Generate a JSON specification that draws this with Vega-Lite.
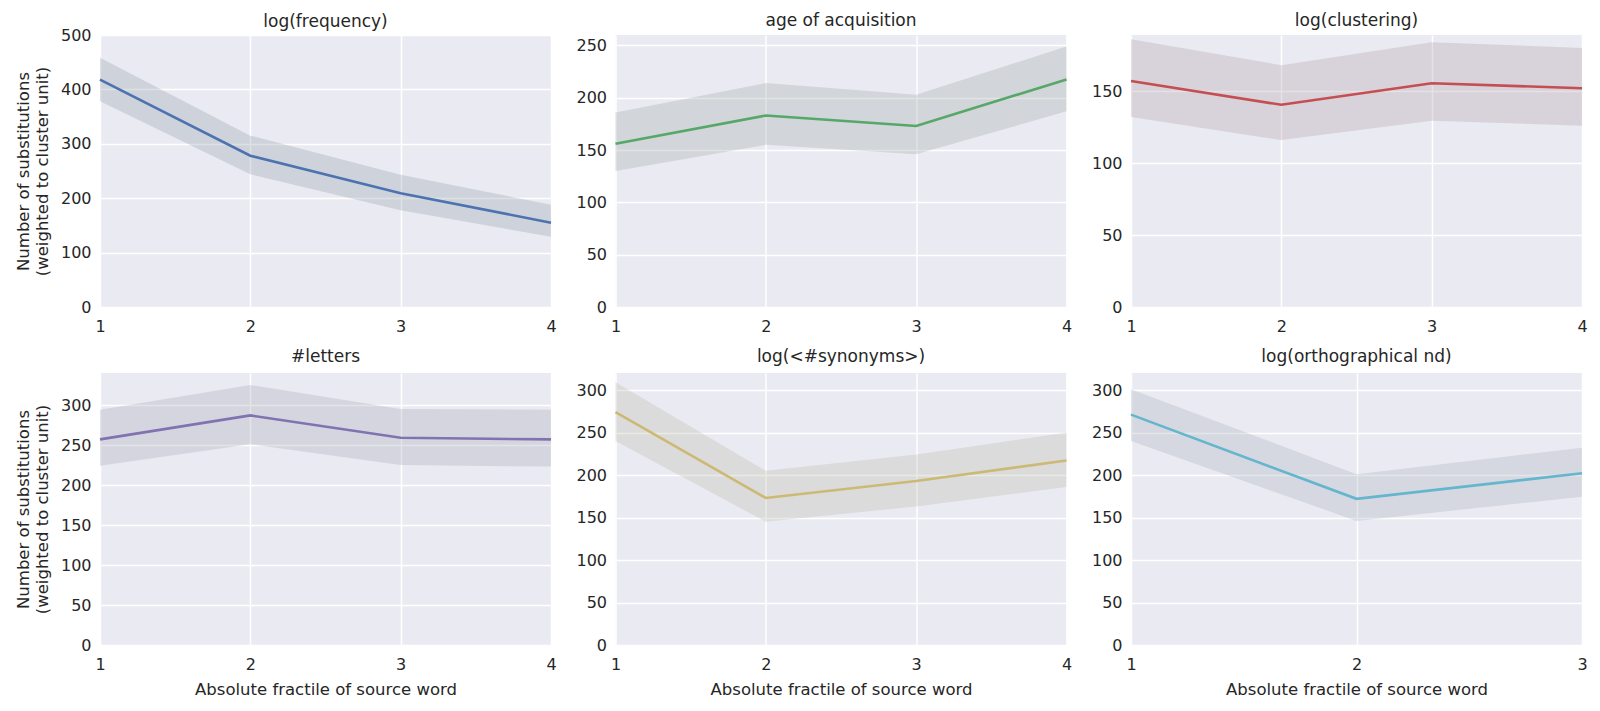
{
  "$schema": "https://vega.github.io/schema/vega-lite/v6.json",
  "background": "white",
  "padding": {"left": 15, "top": 12, "right": 3, "bottom": 3},
  "spacing": 14,
  "data": {"values": [
    {"panel": "freq", "fractile": 1, "mean": 418, "lo": 378, "hi": 458},
    {"panel": "freq", "fractile": 2, "mean": 278, "lo": 244, "hi": 315},
    {"panel": "freq", "fractile": 3, "mean": 209, "lo": 178, "hi": 243},
    {"panel": "freq", "fractile": 4, "mean": 155, "lo": 129, "hi": 188},
    {"panel": "aoa", "fractile": 1, "mean": 156, "lo": 130, "hi": 186},
    {"panel": "aoa", "fractile": 2, "mean": 183, "lo": 155, "hi": 214},
    {"panel": "aoa", "fractile": 3, "mean": 173, "lo": 146, "hi": 203},
    {"panel": "aoa", "fractile": 4, "mean": 217.5, "lo": 187, "hi": 249},
    {"panel": "clust", "fractile": 1, "mean": 157, "lo": 132, "hi": 186},
    {"panel": "clust", "fractile": 2, "mean": 140.5, "lo": 116, "hi": 168},
    {"panel": "clust", "fractile": 3, "mean": 155.5, "lo": 129.5, "hi": 184},
    {"panel": "clust", "fractile": 4, "mean": 152, "lo": 126, "hi": 180},
    {"panel": "letters", "fractile": 1, "mean": 257, "lo": 224, "hi": 294},
    {"panel": "letters", "fractile": 2, "mean": 287, "lo": 251, "hi": 325},
    {"panel": "letters", "fractile": 3, "mean": 259, "lo": 225, "hi": 295},
    {"panel": "letters", "fractile": 4, "mean": 257, "lo": 223, "hi": 294},
    {"panel": "syn", "fractile": 1, "mean": 274, "lo": 240, "hi": 309},
    {"panel": "syn", "fractile": 2, "mean": 173, "lo": 145, "hi": 205},
    {"panel": "syn", "fractile": 3, "mean": 193, "lo": 163, "hi": 224},
    {"panel": "syn", "fractile": 4, "mean": 217, "lo": 186, "hi": 250},
    {"panel": "ortho", "fractile": 1, "mean": 271, "lo": 240, "hi": 301},
    {"panel": "ortho", "fractile": 2, "mean": 172, "lo": 146, "hi": 201},
    {"panel": "ortho", "fractile": 3, "mean": 202, "lo": 174.5, "hi": 232}
  ]},
  "config": {
    "font": "DejaVu Sans",
    "view": {"fill": "#EAEAF2", "stroke": null},
    "axis": {
      "domain": false, "ticks": false, "grid": true, "gridColor": "white", "gridWidth": 1.5,
      "labelFont": "DejaVu Sans", "labelFontSize": 16, "labelColor": "#262626", "labelPadding": 9,
      "titleFont": "DejaVu Sans", "titleFontSize": 16.5, "titleColor": "#262626", "titleFontWeight": "normal",
      "titlePadding": 10, "titleLineHeight": 19
    },
    "axisX": {"labelFlush": false, "labelOverlap": false, "labelPadding": 11, "titlePadding": 9},
    "title": {"font": "DejaVu Sans", "fontSize": 17, "fontWeight": "normal", "color": "#262626", "offset": 5},
    "area": {"opacity": 0.3},
    "line": {"strokeWidth": 2.6}
  },
  "vconcat": [
    {
      "spacing": 18.5,
      "hconcat": [
        {
          "title": {"text": "log(frequency)", "offset": -4}, "width": 451, "height": 272,
          "transform": [{"filter": "datum.panel === 'freq'"}],
          "encoding": {
            "x": {"field": "fractile", "type": "quantitative", "scale": {"domain": [1, 4], "nice": false}, "axis": {"values": [1, 2, 3, 4], "format": "d", "title": null}}
          },
          "layer": [
            {"mark": {"type": "area", "color": "#8E9AA6"}, "encoding": {"y": {"field": "hi", "type": "quantitative", "scale": {"domain": [0, 500], "nice": false}, "axis": {"values": [0, 100, 200, 300, 400, 500], "title": ["Number of substitutions", "(weighted to cluster unit)"]}}, "y2": {"field": "lo"}}},
            {"mark": {"type": "line", "color": "#4C72B0"}, "encoding": {"y": {"field": "mean", "type": "quantitative"}}}
          ]
        },
        {
          "title": "age of acquisition", "width": 451, "height": 272,
          "transform": [{"filter": "datum.panel === 'aoa'"}],
          "encoding": {
            "x": {"field": "fractile", "type": "quantitative", "scale": {"domain": [1, 4], "nice": false}, "axis": {"values": [1, 2, 3, 4], "format": "d", "title": null}}
          },
          "layer": [
            {"mark": {"type": "area", "color": "#9AA4A2"}, "encoding": {"y": {"field": "hi", "type": "quantitative", "scale": {"domain": [0, 260], "nice": false}, "axis": {"values": [0, 50, 100, 150, 200, 250], "title": null}}, "y2": {"field": "lo"}}},
            {"mark": {"type": "line", "color": "#55A868"}, "encoding": {"y": {"field": "mean", "type": "quantitative"}}}
          ]
        },
        {
          "title": "log(clustering)", "width": 451, "height": 272,
          "transform": [{"filter": "datum.panel === 'clust'"}],
          "encoding": {
            "x": {"field": "fractile", "type": "quantitative", "scale": {"domain": [1, 4], "nice": false}, "axis": {"values": [1, 2, 3, 4], "format": "d", "title": null}}
          },
          "layer": [
            {"mark": {"type": "area", "color": "#B19DA2"}, "encoding": {"y": {"field": "hi", "type": "quantitative", "scale": {"domain": [0, 189], "nice": false}, "axis": {"values": [0, 50, 100, 150], "title": null}}, "y2": {"field": "lo"}}},
            {"mark": {"type": "line", "color": "#C44E52"}, "encoding": {"y": {"field": "mean", "type": "quantitative"}}}
          ]
        }
      ]
    },
    {
      "spacing": 18.5,
      "hconcat": [
        {
          "title": {"text": "#letters", "offset": 7}, "width": 451, "height": 272,
          "transform": [{"filter": "datum.panel === 'letters'"}],
          "encoding": {
            "x": {"field": "fractile", "type": "quantitative", "scale": {"domain": [1, 4], "nice": false}, "axis": {"values": [1, 2, 3, 4], "format": "d", "title": "Absolute fractile of source word"}}
          },
          "layer": [
            {"mark": {"type": "area", "color": "#A5A4B3"}, "encoding": {"y": {"field": "hi", "type": "quantitative", "scale": {"domain": [0, 340], "nice": false}, "axis": {"values": [0, 50, 100, 150, 200, 250, 300], "title": ["Number of substitutions", "(weighted to cluster unit)"]}}, "y2": {"field": "lo"}}},
            {"mark": {"type": "line", "color": "#8172B2"}, "encoding": {"y": {"field": "mean", "type": "quantitative"}}}
          ]
        },
        {
          "title": {"text": "log(<#synonyms>)", "offset": 7}, "width": 451, "height": 272,
          "transform": [{"filter": "datum.panel === 'syn'"}],
          "encoding": {
            "x": {"field": "fractile", "type": "quantitative", "scale": {"domain": [1, 4], "nice": false}, "axis": {"values": [1, 2, 3, 4], "format": "d", "title": "Absolute fractile of source word"}}
          },
          "layer": [
            {"mark": {"type": "area", "color": "#BBBBA9"}, "encoding": {"y": {"field": "hi", "type": "quantitative", "scale": {"domain": [0, 320], "nice": false}, "axis": {"values": [0, 50, 100, 150, 200, 250, 300], "title": null}}, "y2": {"field": "lo"}}},
            {"mark": {"type": "line", "color": "#CCB974"}, "encoding": {"y": {"field": "mean", "type": "quantitative"}}}
          ]
        },
        {
          "title": {"text": "log(orthographical nd)", "offset": 7}, "width": 451, "height": 272,
          "transform": [{"filter": "datum.panel === 'ortho'"}],
          "encoding": {
            "x": {"field": "fractile", "type": "quantitative", "scale": {"domain": [1, 3], "nice": false}, "axis": {"tickCount": 3, "format": "d", "title": "Absolute fractile of source word"}}
          },
          "layer": [
            {"mark": {"type": "area", "color": "#A7B1B6"}, "encoding": {"y": {"field": "hi", "type": "quantitative", "scale": {"domain": [0, 320], "nice": false}, "axis": {"values": [0, 50, 100, 150, 200, 250, 300], "title": null}}, "y2": {"field": "lo"}}},
            {"mark": {"type": "line", "color": "#64B5CD"}, "encoding": {"y": {"field": "mean", "type": "quantitative"}}}
          ]
        }
      ]
    }
  ]
}
